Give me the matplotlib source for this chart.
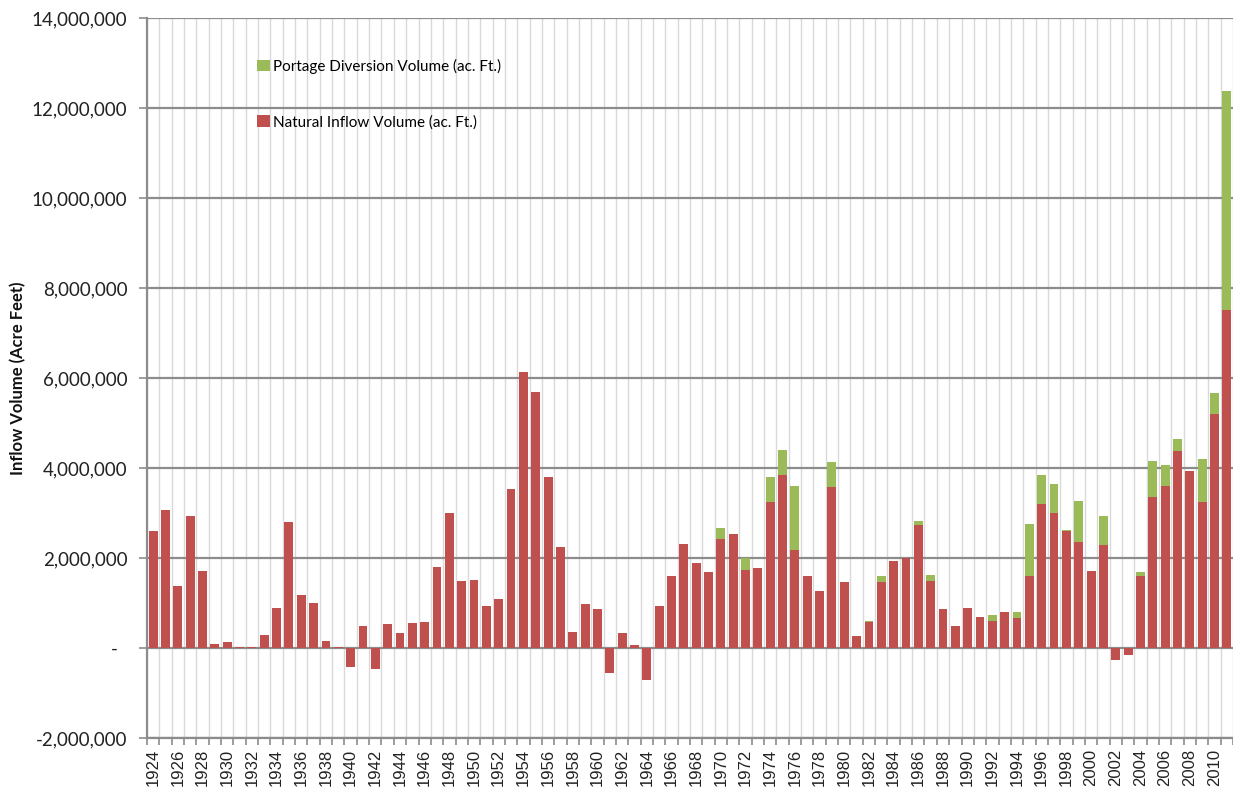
import matplotlib
matplotlib.use("Agg")
import matplotlib.pyplot as plt
from matplotlib.patches import Patch
from matplotlib.ticker import FuncFormatter, FixedLocator
import numpy as np

years = list(range(1924, 2012))

# Natural inflow volume (acre-feet), one value per year 1924-2011
natural_inflow = [
    2600000, 3070000, 1380000, 2930000, 1720000, 100000, 140000, 20000, 20000, 280000,    # 1924-1933
    900000, 2790000, 1170000, 1010000, 160000, 15000, -430000, 490000, -460000, 530000,   # 1934-1943
    330000, 550000, 570000, 1800000, 3010000, 1490000, 1520000, 930000, 1100000, 3540000, # 1944-1953
    6130000, 5690000, 3810000, 2240000, 360000, 980000, 870000, -550000, 330000, 70000,   # 1954-1963
    -700000, 930000, 1610000, 2320000, 1900000, 1690000, 2430000, 2540000, 1730000, 1770000,  # 1964-1973
    3250000, 3840000, 2170000, 1610000, 1270000, 3580000, 1470000, 270000, 570000, 1460000,   # 1974-1983
    1940000, 1990000, 2730000, 1500000, 870000, 490000, 900000, 690000, 590000, 810000,       # 1984-1993
    670000, 1590000, 3200000, 3010000, 2590000, 2350000, 1720000, 2300000, -260000, -160000,  # 1994-2003
    1610000, 3360000, 3600000, 4380000, 3940000, 3240000, 5190000, 7520000,                   # 2004-2011
]

# Portage diversion volume (acre-feet), stacked on top of natural inflow
portage_diversion = [
    0, 0, 0, 0, 0, 0, 0, 0, 0, 0,                                       # 1924-1933
    0, 0, 0, 0, 0, 0, 0, 0, 0, 0,                                       # 1934-1943
    0, 0, 0, 0, 0, 0, 0, 0, 0, 0,                                       # 1944-1953
    0, 0, 0, 0, 0, 0, 0, 0, 0, 0,                                       # 1954-1963
    0, 0, 0, 0, 0, 0, 230000, 0, 280000, 0,                             # 1964-1973
    550000, 550000, 1440000, 0, 0, 560000, 0, 0, 30000, 150000,         # 1974-1983
    0, 20000, 90000, 130000, 0, 0, 0, 0, 150000, 0,                     # 1984-1993
    120000, 1170000, 640000, 640000, 40000, 920000, 0, 630000, 0, 0,    # 1994-2003
    90000, 790000, 460000, 260000, 0, 960000, 480000, 4850000,          # 2004-2011
]

series_labels = ["Portage Diversion Volume (ac. Ft.)", "Natural Inflow Volume (ac. Ft.)"]
y_ticks = list(range(-2000000, 14000001, 2000000))

RED = "#C0504D"
GREEN = "#9BBB59"
GRID_DARK = "#8C8C8C"
GRID_LIGHT = "#D9D9D9"

fig = plt.figure(figsize=(12.33, 7.90), dpi=100)
ax = fig.add_axes([147 / 1233, 1 - 738 / 790, 1086 / 1233, 720 / 790])

x = np.arange(len(years))
nat = np.array(natural_inflow, dtype=float)
div = np.array(portage_diversion, dtype=float)
base = np.where(nat > 0, nat, 0)

ax.bar(x, nat, width=0.72, color=RED, zorder=3)
ax.bar(x, div, width=0.72, bottom=base, color=GREEN, zorder=3)

ax.set_xlim(-0.5, len(years) - 0.5)
ax.set_ylim(y_ticks[0], y_ticks[-1])

# y axis: horizontal major grid and accounting-style labels
ax.set_yticks(y_ticks)
ax.yaxis.set_major_formatter(FuncFormatter(lambda v, p: "-" if v == 0 else f"{v:,.0f}"))
ax.grid(axis="y", color=GRID_DARK, linewidth=1.6, zorder=1)
ax.tick_params(axis="y", length=6, width=1.2, color=GRID_DARK, pad=8, labelsize=13.5)
for lab in ax.get_yticklabels():
    lab.set_fontfamily("Lato")
    lab.set_color("#222222")

# x axis: labels every other year at bar centers, ticks/grid at category boundaries
ax.xaxis.set_major_locator(FixedLocator(x[::2]))
ax.set_xticklabels([str(y) for y in years[::2]], rotation=90,
                   fontfamily="Liberation Sans", fontsize=12, color="#222222")
ax.tick_params(axis="x", which="major", length=0, pad=8)
ax.xaxis.set_minor_locator(FixedLocator(np.arange(-0.5, len(years), 1.0)))
ax.tick_params(axis="x", which="minor", length=5, width=1.2, color=GRID_DARK)
ax.grid(axis="x", which="minor", color=GRID_LIGHT, linewidth=1.0, zorder=0)
ax.set_axisbelow(True)

for side in ("top", "right"):
    ax.spines[side].set_visible(False)
for side in ("left", "bottom"):
    ax.spines[side].set_color(GRID_DARK)
    ax.spines[side].set_linewidth(1.6)

# 0-value label sits left of the other labels (accounting format)
for lab in ax.get_yticklabels():
    if lab.get_text() == "-":
        lab.set_x(-0.009)

ax.set_ylabel("Inflow Volume (Acre Feet)", fontfamily="Lato", fontweight="bold",
              fontsize=12, color="#111111")
ax.yaxis.set_label_coords(-0.111, 0.5)

handles = [Patch(facecolor=GREEN, edgecolor="none"), Patch(facecolor=RED, edgecolor="none")]
ax.legend(handles, series_labels, loc="upper left", bbox_to_anchor=(0.096, 0.952),
          frameon=False, prop={"family": "Lato", "size": 11},
          handlelength=0.8, handleheight=0.8, handletextpad=0.2,
          labelspacing=2.7, borderaxespad=0)

fig.savefig("out.png", dpi=100)
